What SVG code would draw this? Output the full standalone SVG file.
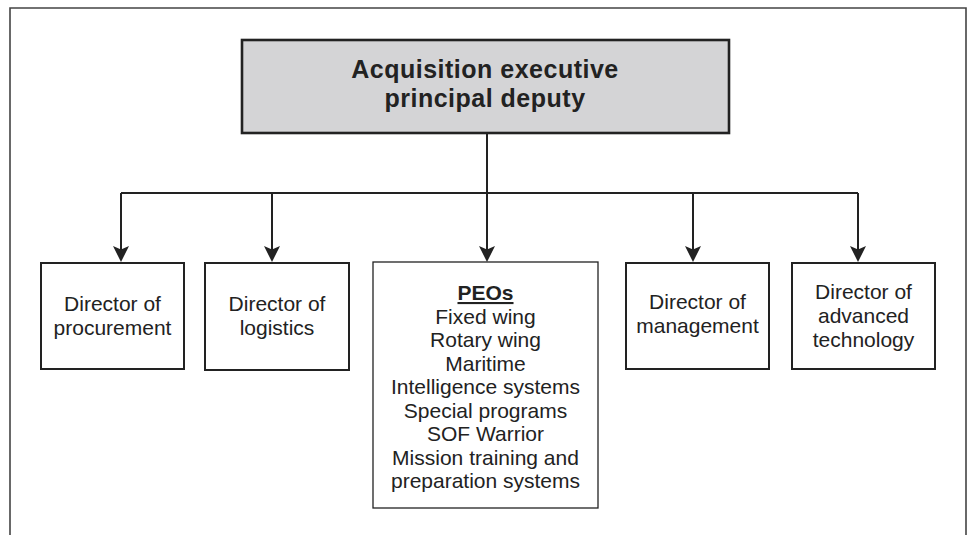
<svg xmlns="http://www.w3.org/2000/svg" width="972" height="535" viewBox="0 0 972 535">
  <style>
    .frame { fill: none; stroke: #444; stroke-width: 1.6; }
    .box { fill: #fff; stroke: #222; stroke-width: 2; }
    .peo { fill: #fff; stroke: #222; stroke-width: 1.3; }
    .top { fill: #d4d4d6; stroke: #222; stroke-width: 2.6; }
    .t { font-family: "Liberation Sans", Arial, sans-serif; font-size: 21px; fill: #222; text-anchor: middle; }
    .title { font-family: "Liberation Sans", Arial, sans-serif; font-size: 25px; font-weight: bold; letter-spacing: 0.5px; fill: #222; text-anchor: middle; }
    .conn { fill: none; stroke: #222; stroke-width: 2; }
  </style>
  <defs>
    <marker id="arrow" markerUnits="userSpaceOnUse" markerWidth="16" markerHeight="16" viewBox="0 0 16 16" refX="10" refY="8" orient="auto">
      <path d="M0,0 L16,8 L0,16 L3.5,8 Z" fill="#222"/>
    </marker>
  </defs>
  <rect width="972" height="535" fill="#fff"/>
  <path class="frame" d="M10,536 L10,8 L966,8 L966,536"/>

  <g id="acquisition-executive">
    <rect class="top" x="242" y="40" width="487" height="93"/>
    <text class="title" x="485" y="78">Acquisition executive</text>
    <text class="title" x="485" y="107">principal deputy</text>
  </g>

  <g id="connectors">
    <path class="conn" d="M487,133 L487,193"/>
    <path class="conn" d="M121,193 L858,193"/>
    <path class="conn" d="M121,193 L121,256" marker-end="url(#arrow)"/>
    <path class="conn" d="M272,193 L272,256" marker-end="url(#arrow)"/>
    <path class="conn" d="M487,193 L487,256" marker-end="url(#arrow)"/>
    <path class="conn" d="M693,193 L693,256" marker-end="url(#arrow)"/>
    <path class="conn" d="M858,193 L858,256" marker-end="url(#arrow)"/>
  </g>

  <g id="director-procurement">
    <rect class="box" x="41" y="263" width="143" height="106"/>
    <text class="t" x="112.5" y="311">Director of</text>
    <text class="t" x="112.5" y="335">procurement</text>
  </g>

  <g id="director-logistics">
    <rect class="box" x="205" y="263" width="144" height="107"/>
    <text class="t" x="277" y="311">Director of</text>
    <text class="t" x="277" y="335">logistics</text>
  </g>

  <g id="peos">
    <rect class="peo" x="373" y="262" width="225" height="246"/>
    <text class="t" x="485.5" y="300" font-weight="bold" text-decoration="underline">PEOs</text>
    <text class="t" x="485.5" y="323.5">Fixed wing</text>
    <text class="t" x="485.5" y="347">Rotary wing</text>
    <text class="t" x="485.5" y="370.5">Maritime</text>
    <text class="t" x="485.5" y="394">Intelligence systems</text>
    <text class="t" x="485.5" y="417.5">Special programs</text>
    <text class="t" x="485.5" y="441">SOF Warrior</text>
    <text class="t" x="485.5" y="464.5">Mission training and</text>
    <text class="t" x="485.5" y="488">preparation systems</text>
  </g>

  <g id="director-management">
    <rect class="box" x="626" y="263" width="143" height="106"/>
    <text class="t" x="697.5" y="309">Director of</text>
    <text class="t" x="697.5" y="333">management</text>
  </g>

  <g id="director-advanced-technology">
    <rect class="box" x="792" y="263" width="143" height="106"/>
    <text class="t" x="863.5" y="299">Director of</text>
    <text class="t" x="863.5" y="323">advanced</text>
    <text class="t" x="863.5" y="347">technology</text>
  </g>
</svg>
